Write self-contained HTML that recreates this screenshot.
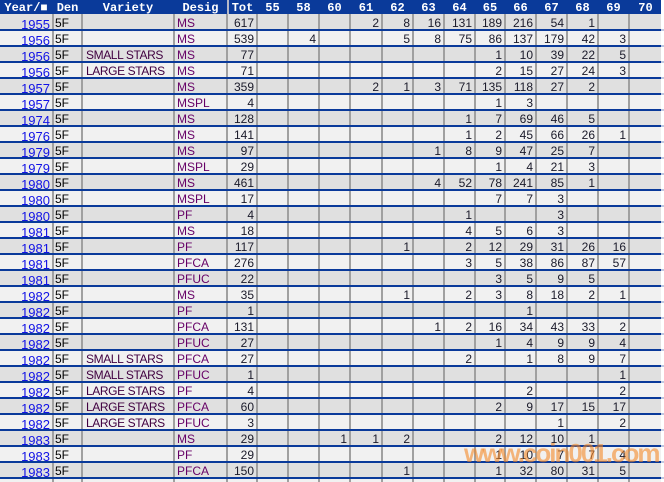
<!DOCTYPE html>
<html><head><meta charset="utf-8">
<style>
html{overflow:hidden;width:664px;height:482px;}
html,body{margin:0;padding:0;background:#fff;}
body{width:664px;height:482px;overflow:hidden;position:relative;}
.bg{position:absolute;left:0;width:661px;height:16px;}
.g{background:#e0e0e0;}
.l{background:#f1f1f1;}
.vl{position:absolute;top:14px;height:468px;width:2px;background:#a0a0a0;}
.bl{position:absolute;left:0;width:664px;height:2px;background:linear-gradient(to right,#0a3a9a 0,#0a3a9a 661px,#c0c8e0 661px);}
#hd{position:absolute;left:0;top:0;width:661px;height:14px;background:#0a3a9a;z-index:3;}
#hd span{position:absolute;top:1px;font:bold 12px/14px "Liberation Mono",monospace;color:#fff;text-align:center;white-space:nowrap;}
#hdl{position:absolute;left:227px;top:0;width:2px;height:14px;background:#b4b8c8;}
.tr{position:absolute;left:0;width:661px;height:16px;z-index:4;}
.tr span{position:absolute;top:3px;font:12px/14px "Liberation Sans",sans-serif;white-space:nowrap;color:#1a1a2a;}
.tr span.y{left:0;width:50px;text-align:right;top:4.5px;font:13px/14px "Liberation Sans",sans-serif;color:#1212e6;}
.tr span.d{left:55px;color:#000;}
.tr span.v{left:86px;color:#400040;letter-spacing:-0.4px;}
.tr span.s{left:177px;color:#660066;}
.tr span.o{left:228px;width:26px;text-align:right;}
.tr span.a{left:258px;width:27px;text-align:right;}
.tr span.b{left:289px;width:27px;text-align:right;}
.tr span.c{left:320px;width:27px;text-align:right;}
.tr span.e{left:351px;width:28px;text-align:right;}
.tr span.f{left:383px;width:27px;text-align:right;}
.tr span.h{left:414px;width:27px;text-align:right;}
.tr span.i{left:445px;width:27px;text-align:right;}
.tr span.j{left:476px;width:26px;text-align:right;}
.tr span.k{left:506px;width:27px;text-align:right;}
.tr span.m{left:537px;width:27px;text-align:right;}
.tr span.n{left:568px;width:27px;text-align:right;}
.tr span.p{left:599px;width:27px;text-align:right;}
.tr span.q{left:630px;width:29px;text-align:right;}
#wm{position:absolute;left:464px;top:438px;font:bold 26px/30px "Liberation Sans",sans-serif;letter-spacing:-2px;color:rgba(245,135,35,0.58);z-index:6;white-space:nowrap;}
</style></head><body>

<!-- row backgrounds -->
<div class="bg g" style="top:13px"></div>
<div class="bg l" style="top:29px"></div>
<div class="bg g" style="top:45px"></div>
<div class="bg l" style="top:61px"></div>
<div class="bg g" style="top:77px"></div>
<div class="bg l" style="top:93px"></div>
<div class="bg g" style="top:109px"></div>
<div class="bg l" style="top:125px"></div>
<div class="bg g" style="top:141px"></div>
<div class="bg l" style="top:157px"></div>
<div class="bg g" style="top:173px"></div>
<div class="bg l" style="top:189px"></div>
<div class="bg g" style="top:205px"></div>
<div class="bg l" style="top:221px"></div>
<div class="bg g" style="top:237px"></div>
<div class="bg l" style="top:253px"></div>
<div class="bg g" style="top:269px"></div>
<div class="bg l" style="top:285px"></div>
<div class="bg g" style="top:301px"></div>
<div class="bg l" style="top:317px"></div>
<div class="bg g" style="top:333px"></div>
<div class="bg l" style="top:349px"></div>
<div class="bg g" style="top:365px"></div>
<div class="bg l" style="top:381px"></div>
<div class="bg g" style="top:397px"></div>
<div class="bg l" style="top:413px"></div>
<div class="bg g" style="top:429px"></div>
<div class="bg l" style="top:445px"></div>
<div class="bg g" style="top:461px"></div>
<div class="bg l" style="top:477px;height:5px"></div>

<!-- vertical lines -->
<div class="vl" style="left:52px"></div>
<div class="vl" style="left:81px"></div>
<div class="vl" style="left:173px"></div>
<div class="vl" style="left:226px"></div>
<div class="vl" style="left:256px"></div>
<div class="vl" style="left:287px"></div>
<div class="vl" style="left:318px"></div>
<div class="vl" style="left:349px"></div>
<div class="vl" style="left:381px"></div>
<div class="vl" style="left:412px"></div>
<div class="vl" style="left:443px"></div>
<div class="vl" style="left:474px"></div>
<div class="vl" style="left:504px"></div>
<div class="vl" style="left:535px"></div>
<div class="vl" style="left:566px"></div>
<div class="vl" style="left:597px"></div>
<div class="vl" style="left:628px"></div>

<!-- blue lines -->
<div class="bl" style="top:29px"></div>
<div class="bl" style="top:45px"></div>
<div class="bl" style="top:61px"></div>
<div class="bl" style="top:77px"></div>
<div class="bl" style="top:93px"></div>
<div class="bl" style="top:109px"></div>
<div class="bl" style="top:125px"></div>
<div class="bl" style="top:141px"></div>
<div class="bl" style="top:157px"></div>
<div class="bl" style="top:173px"></div>
<div class="bl" style="top:189px"></div>
<div class="bl" style="top:205px"></div>
<div class="bl" style="top:221px"></div>
<div class="bl" style="top:237px"></div>
<div class="bl" style="top:253px"></div>
<div class="bl" style="top:269px"></div>
<div class="bl" style="top:285px"></div>
<div class="bl" style="top:301px"></div>
<div class="bl" style="top:317px"></div>
<div class="bl" style="top:333px"></div>
<div class="bl" style="top:349px"></div>
<div class="bl" style="top:365px"></div>
<div class="bl" style="top:381px"></div>
<div class="bl" style="top:397px"></div>
<div class="bl" style="top:413px"></div>
<div class="bl" style="top:429px"></div>
<div class="bl" style="top:445px"></div>
<div class="bl" style="top:461px"></div>
<div class="bl" style="top:477px"></div>

<!-- header -->
<div id="hd">
<div id="hdl"></div>
<span style="left:0;width:52px">Year/■</span>
<span style="left:54px;width:27px">Den</span>
<span style="left:83px;width:90px">Variety</span>
<span style="left:175px;width:51px">Desig</span>
<span style="left:229px;width:27px">Tot</span>
<span style="left:258px;width:29px">55</span>
<span style="left:289px;width:29px">58</span>
<span style="left:320px;width:29px">60</span>
<span style="left:351px;width:30px">61</span>
<span style="left:383px;width:29px">62</span>
<span style="left:414px;width:29px">63</span>
<span style="left:445px;width:29px">64</span>
<span style="left:476px;width:28px">65</span>
<span style="left:506px;width:29px">66</span>
<span style="left:537px;width:29px">67</span>
<span style="left:568px;width:29px">68</span>
<span style="left:599px;width:29px">69</span>
<span style="left:630px;width:31px">70</span>
</div>

<!-- text rows -->
<div class="tr" style="top:13px"><span class="y">1955</span><span class="d">5F</span><span class="s">MS</span><span class="o">617</span><span class="e">2</span><span class="f">8</span><span class="h">16</span><span class="i">131</span><span class="j">189</span><span class="k">216</span><span class="m">54</span><span class="n">1</span></div>
<div class="tr" style="top:29px"><span class="y">1956</span><span class="d">5F</span><span class="s">MS</span><span class="o">539</span><span class="b">4</span><span class="f">5</span><span class="h">8</span><span class="i">75</span><span class="j">86</span><span class="k">137</span><span class="m">179</span><span class="n">42</span><span class="p">3</span></div>
<div class="tr" style="top:45px"><span class="y">1956</span><span class="d">5F</span><span class="v">SMALL STARS</span><span class="s">MS</span><span class="o">77</span><span class="j">1</span><span class="k">10</span><span class="m">39</span><span class="n">22</span><span class="p">5</span></div>
<div class="tr" style="top:61px"><span class="y">1956</span><span class="d">5F</span><span class="v">LARGE STARS</span><span class="s">MS</span><span class="o">71</span><span class="j">2</span><span class="k">15</span><span class="m">27</span><span class="n">24</span><span class="p">3</span></div>
<div class="tr" style="top:77px"><span class="y">1957</span><span class="d">5F</span><span class="s">MS</span><span class="o">359</span><span class="e">2</span><span class="f">1</span><span class="h">3</span><span class="i">71</span><span class="j">135</span><span class="k">118</span><span class="m">27</span><span class="n">2</span></div>
<div class="tr" style="top:93px"><span class="y">1957</span><span class="d">5F</span><span class="s">MSPL</span><span class="o">4</span><span class="j">1</span><span class="k">3</span></div>
<div class="tr" style="top:109px"><span class="y">1974</span><span class="d">5F</span><span class="s">MS</span><span class="o">128</span><span class="i">1</span><span class="j">7</span><span class="k">69</span><span class="m">46</span><span class="n">5</span></div>
<div class="tr" style="top:125px"><span class="y">1976</span><span class="d">5F</span><span class="s">MS</span><span class="o">141</span><span class="i">1</span><span class="j">2</span><span class="k">45</span><span class="m">66</span><span class="n">26</span><span class="p">1</span></div>
<div class="tr" style="top:141px"><span class="y">1979</span><span class="d">5F</span><span class="s">MS</span><span class="o">97</span><span class="h">1</span><span class="i">8</span><span class="j">9</span><span class="k">47</span><span class="m">25</span><span class="n">7</span></div>
<div class="tr" style="top:157px"><span class="y">1979</span><span class="d">5F</span><span class="s">MSPL</span><span class="o">29</span><span class="j">1</span><span class="k">4</span><span class="m">21</span><span class="n">3</span></div>
<div class="tr" style="top:173px"><span class="y">1980</span><span class="d">5F</span><span class="s">MS</span><span class="o">461</span><span class="h">4</span><span class="i">52</span><span class="j">78</span><span class="k">241</span><span class="m">85</span><span class="n">1</span></div>
<div class="tr" style="top:189px"><span class="y">1980</span><span class="d">5F</span><span class="s">MSPL</span><span class="o">17</span><span class="j">7</span><span class="k">7</span><span class="m">3</span></div>
<div class="tr" style="top:205px"><span class="y">1980</span><span class="d">5F</span><span class="s">PF</span><span class="o">4</span><span class="i">1</span><span class="m">3</span></div>
<div class="tr" style="top:221px"><span class="y">1981</span><span class="d">5F</span><span class="s">MS</span><span class="o">18</span><span class="i">4</span><span class="j">5</span><span class="k">6</span><span class="m">3</span></div>
<div class="tr" style="top:237px"><span class="y">1981</span><span class="d">5F</span><span class="s">PF</span><span class="o">117</span><span class="f">1</span><span class="i">2</span><span class="j">12</span><span class="k">29</span><span class="m">31</span><span class="n">26</span><span class="p">16</span></div>
<div class="tr" style="top:253px"><span class="y">1981</span><span class="d">5F</span><span class="s">PFCA</span><span class="o">276</span><span class="i">3</span><span class="j">5</span><span class="k">38</span><span class="m">86</span><span class="n">87</span><span class="p">57</span></div>
<div class="tr" style="top:269px"><span class="y">1981</span><span class="d">5F</span><span class="s">PFUC</span><span class="o">22</span><span class="j">3</span><span class="k">5</span><span class="m">9</span><span class="n">5</span></div>
<div class="tr" style="top:285px"><span class="y">1982</span><span class="d">5F</span><span class="s">MS</span><span class="o">35</span><span class="f">1</span><span class="i">2</span><span class="j">3</span><span class="k">8</span><span class="m">18</span><span class="n">2</span><span class="p">1</span></div>
<div class="tr" style="top:301px"><span class="y">1982</span><span class="d">5F</span><span class="s">PF</span><span class="o">1</span><span class="k">1</span></div>
<div class="tr" style="top:317px"><span class="y">1982</span><span class="d">5F</span><span class="s">PFCA</span><span class="o">131</span><span class="h">1</span><span class="i">2</span><span class="j">16</span><span class="k">34</span><span class="m">43</span><span class="n">33</span><span class="p">2</span></div>
<div class="tr" style="top:333px"><span class="y">1982</span><span class="d">5F</span><span class="s">PFUC</span><span class="o">27</span><span class="j">1</span><span class="k">4</span><span class="m">9</span><span class="n">9</span><span class="p">4</span></div>
<div class="tr" style="top:349px"><span class="y">1982</span><span class="d">5F</span><span class="v">SMALL STARS</span><span class="s">PFCA</span><span class="o">27</span><span class="i">2</span><span class="k">1</span><span class="m">8</span><span class="n">9</span><span class="p">7</span></div>
<div class="tr" style="top:365px"><span class="y">1982</span><span class="d">5F</span><span class="v">SMALL STARS</span><span class="s">PFUC</span><span class="o">1</span><span class="p">1</span></div>
<div class="tr" style="top:381px"><span class="y">1982</span><span class="d">5F</span><span class="v">LARGE STARS</span><span class="s">PF</span><span class="o">4</span><span class="k">2</span><span class="p">2</span></div>
<div class="tr" style="top:397px"><span class="y">1982</span><span class="d">5F</span><span class="v">LARGE STARS</span><span class="s">PFCA</span><span class="o">60</span><span class="j">2</span><span class="k">9</span><span class="m">17</span><span class="n">15</span><span class="p">17</span></div>
<div class="tr" style="top:413px"><span class="y">1982</span><span class="d">5F</span><span class="v">LARGE STARS</span><span class="s">PFUC</span><span class="o">3</span><span class="m">1</span><span class="p">2</span></div>
<div class="tr" style="top:429px"><span class="y">1983</span><span class="d">5F</span><span class="s">MS</span><span class="o">29</span><span class="c">1</span><span class="e">1</span><span class="f">2</span><span class="j">2</span><span class="k">12</span><span class="m">10</span><span class="n">1</span></div>
<div class="tr" style="top:445px"><span class="y">1983</span><span class="d">5F</span><span class="s">PF</span><span class="o">29</span><span class="j">1</span><span class="k">10</span><span class="m">7</span><span class="n">7</span><span class="p">4</span></div>
<div class="tr" style="top:461px"><span class="y">1983</span><span class="d">5F</span><span class="s">PFCA</span><span class="o">150</span><span class="f">1</span><span class="j">1</span><span class="k">32</span><span class="m">80</span><span class="n">31</span><span class="p">5</span></div>

<div id="wm">www.coin001.com</div>
</body></html>
